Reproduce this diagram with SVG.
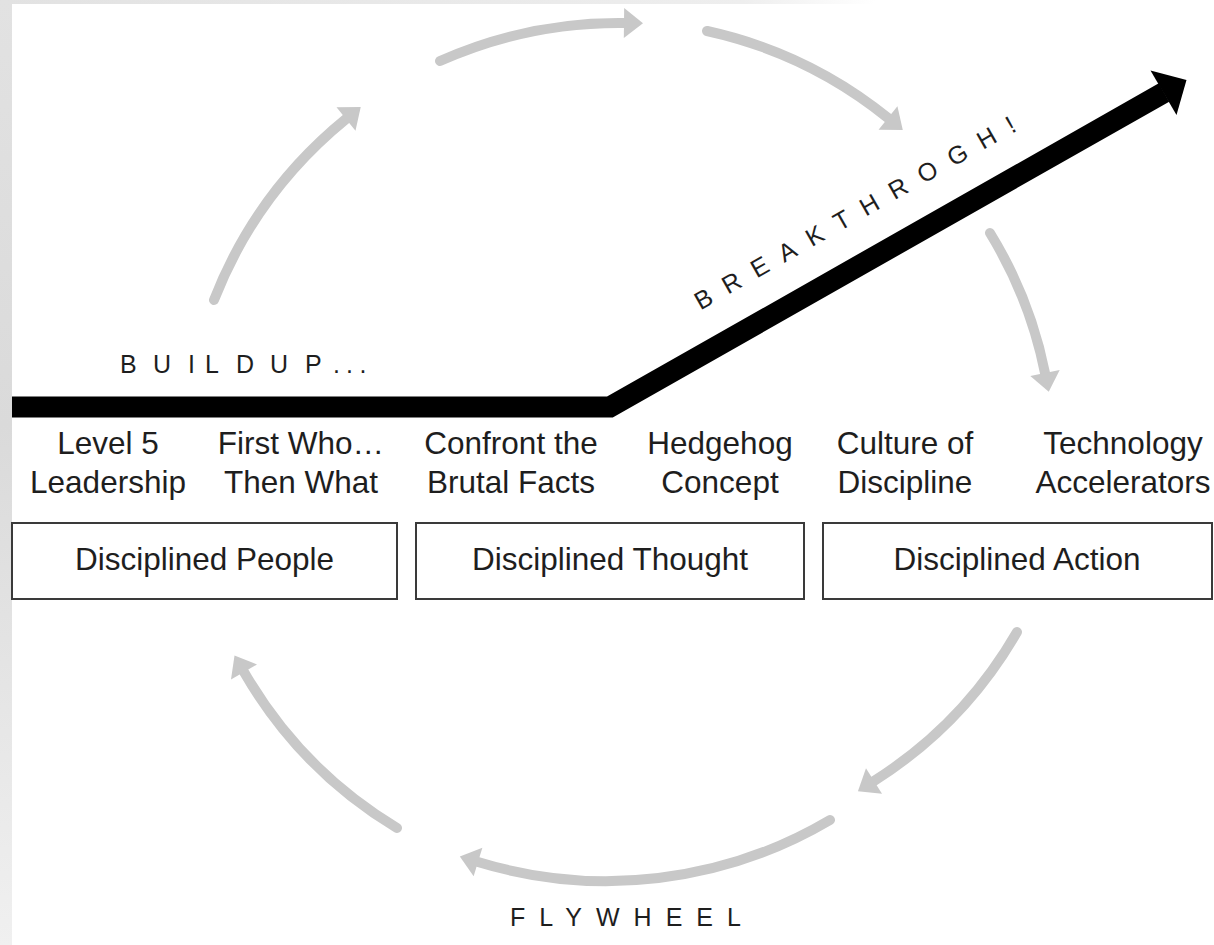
<svg xmlns="http://www.w3.org/2000/svg" width="1214" height="945" viewBox="0 0 1214 945">
  <style>
    .lbl { font-family: "Liberation Sans", Arial, sans-serif; font-size: 31.5px; fill: #1e1e1e; text-anchor: middle; }
    .cap { font-family: "Liberation Sans", Arial, sans-serif; font-size: 25px; fill: #1e1e1e; }
    .box { fill: #ffffff; stroke: #3a3a3a; stroke-width: 2; }
    .flow { fill: none; stroke: #c8c8c8; stroke-width: 10; stroke-linecap: round; marker-end: url(#grey-head); }
  </style>
  <defs>
    <linearGradient id="edge-left" x1="0" y1="0" x2="0" y2="1">
      <stop offset="0" stop-color="#e2e2e2"/>
      <stop offset="0.45" stop-color="#dadada"/>
      <stop offset="1" stop-color="#f0f0f0"/>
    </linearGradient>
    <linearGradient id="edge-top" x1="0" y1="0" x2="1" y2="0">
      <stop offset="0" stop-color="#e2e2e2"/>
      <stop offset="0.85" stop-color="#eeeeee"/>
      <stop offset="1" stop-color="#ffffff"/>
    </linearGradient>
    <marker id="grey-head" markerUnits="userSpaceOnUse" viewBox="-2 -18 24 36" markerWidth="24" markerHeight="36" refX="0" refY="0" orient="auto">
      <path d="M0,-15 L19,0 L0,15 Z" fill="#c8c8c8"/>
    </marker>
  </defs>

  <!-- page -->
  <rect x="0" y="0" width="1214" height="945" fill="#ffffff"/>
  <rect x="0" y="0" width="875" height="4" fill="url(#edge-top)"/>
  <rect x="0" y="0" width="12" height="945" fill="url(#edge-left)"/>

  <!-- flywheel cycle and breakthrough line -->
  <g id="connectors">
    <path class="flow" d="M214,300 A440,440 0 0 1 346,119"/>
    <path class="flow" d="M440,61 A440,440 0 0 1 624,23"/>
    <path class="flow" d="M707,31 A437,437 0 0 1 888,118"/>
    <path class="flow" d="M990,233 A430,430 0 0 1 1045,373"/>
    <path class="flow" d="M1017,632 A430,430 0 0 1 874,781"/>
    <path class="flow" d="M830,820 A440,440 0 0 1 478,862"/>
    <path class="flow" d="M397,828 A437,437 0 0 1 244,672"/>

    <g id="breakthrough-line">
      <path d="M12,407 L610,407 L1164,92.5" fill="none" stroke="#000000" stroke-width="21" stroke-linejoin="miter"/>
      <polygon points="1186.5,80 1150.5,70.5 1176.5,115" fill="#000000"/>
    </g>
  </g>

  <!-- phase captions -->
  <g id="buildup">
    <text class="cap" x="120 153 188 205 236 270 305 333 346 359.5" y="373">BUILDUP...</text>
  </g>
  <g id="breakthrough">
    <text class="cap" transform="translate(700.5,310.5) rotate(-29.6)" letter-spacing="15">BREAKTHROGH!</text>
  </g>
  <g id="flywheel">
    <text class="cap" x="510" y="926" letter-spacing="14">FLYWHEEL</text>
  </g>

  <!-- stage labels -->
  <g id="level-5-leadership">
    <text class="lbl" x="108" y="454">Level 5</text>
    <text class="lbl" x="108" y="492.5">Leadership</text>
  </g>
  <g id="first-who">
    <text class="lbl" x="301" y="454">First Who…</text>
    <text class="lbl" x="301" y="492.5">Then What</text>
  </g>
  <g id="brutal-facts">
    <text class="lbl" x="511" y="454">Confront the</text>
    <text class="lbl" x="511" y="492.5">Brutal Facts</text>
  </g>
  <g id="hedgehog">
    <text class="lbl" x="720" y="454">Hedgehog</text>
    <text class="lbl" x="720" y="492.5">Concept</text>
  </g>
  <g id="culture">
    <text class="lbl" x="905" y="454">Culture of</text>
    <text class="lbl" x="905" y="492.5">Discipline</text>
  </g>
  <g id="technology">
    <text class="lbl" x="1123" y="454">Technology</text>
    <text class="lbl" x="1123" y="492.5">Accelerators</text>
  </g>

  <!-- discipline boxes -->
  <g id="disciplined-people">
    <rect class="box" x="12" y="523" width="385" height="76"/>
    <text class="lbl" x="204.5" y="570">Disciplined People</text>
  </g>
  <g id="disciplined-thought">
    <rect class="box" x="416" y="523" width="388" height="76"/>
    <text class="lbl" x="610" y="570">Disciplined Thought</text>
  </g>
  <g id="disciplined-action">
    <rect class="box" x="823" y="523" width="389" height="76"/>
    <text class="lbl" x="1017" y="570">Disciplined Action</text>
  </g>
</svg>
